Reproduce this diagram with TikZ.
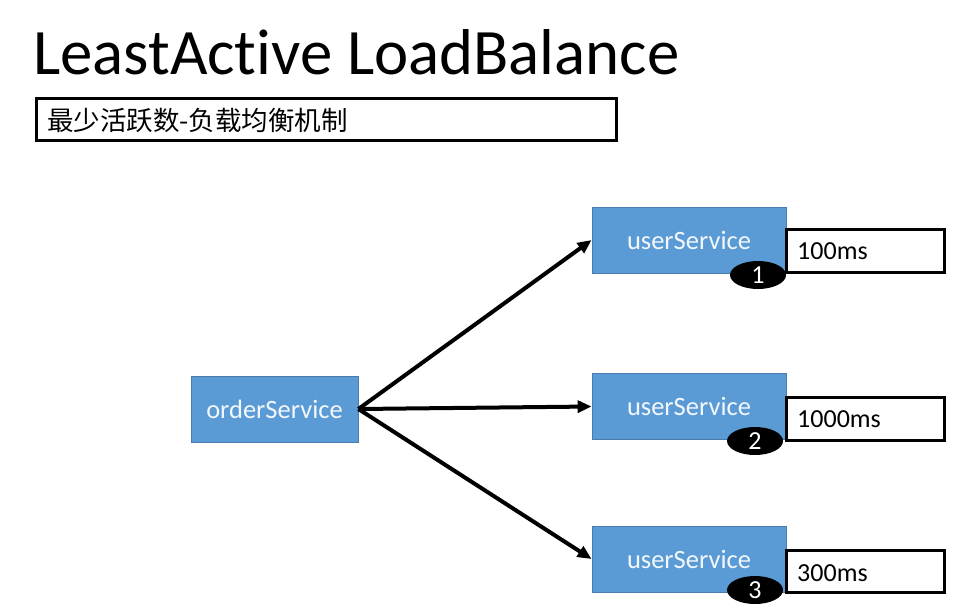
\documentclass[tikz,border=0pt]{standalone}
\usepackage{fontspec}
\setmainfont[Ligatures=NoCommon]{Carlito}
\newfontfamily\cjk{Noto Sans CJK SC}
\usetikzlibrary{arrows.meta,shapes.geometric}
\definecolor{boxblue}{HTML}{5B9BD5}
\definecolor{boxtext}{HTML}{F2F7FC}
\tikzset{
  svc/.style={draw=boxblue!80!black, line width=0.8pt, fill=boxblue, text=boxtext, font=\fontsize{26.5}{30}\selectfont, inner sep=0pt},
  timebox/.style={draw=black, line width=3pt, fill=white, inner sep=0pt},
  timelabel/.style={anchor=west, inner sep=0pt, font=\fontsize{26}{30}\selectfont},
  badge/.style={ellipse, fill=black, text=white, minimum width=56pt, minimum height=28pt, inner sep=0pt, font=\fontsize{26}{30}\selectfont},
  conn/.style={line width=4pt, -{Triangle[length=14pt,width=12pt]}}
}
\begin{document}
\begin{tikzpicture}[x=1pt,y=-1pt]
\useasboundingbox (0,0) rectangle (965,614);
\node[anchor=base west, inner sep=0pt, font=\fontsize{64.8}{72}\selectfont] (title) at (33,74) {LeastActive LoadBalance};
\node[draw=black, line width=2.5pt, minimum width=580pt, minimum height=42pt, inner sep=0pt] (sub) at (326.5,119.5) {};
\node[anchor=west, inner sep=0pt, font=\cjk\fontsize{26.5}{30}\selectfont] (subt) at (47,120) {最少活跃数-负载均衡机制};

\node[svc, minimum width=167pt, minimum height=66pt] (order) at (274.5,409) {orderService};
\node[svc, minimum width=194pt, minimum height=66pt] (u1) at (689,240) {userService};
\node[svc, minimum width=194pt, minimum height=66pt] (u2) at (689,406.5) {userService};
\node[svc, minimum width=194pt, minimum height=66pt] (u3) at (689,559) {userService};

\node[timebox, minimum width=158pt, minimum height=43pt] (t1) at (865,250.5) {};
\node[timelabel] (l1) at (797,251) {100ms};
\node[timebox, minimum width=158pt, minimum height=43pt] (t2) at (865,418.5) {};
\node[timelabel] (l2) at (797,419) {1000ms};
\node[timebox, minimum width=158pt, minimum height=42pt] (t3) at (865,571) {};
\node[timelabel] (l3) at (797,573) {300ms};

\node[badge] (b1) at (758,275) {1};
\node[badge] (b2) at (755,441) {2};
\node[badge] (b3) at (755,590) {3};

\coordinate (src) at (order.east);
\draw[conn] (src) -- (u1.west);
\draw[conn] (src) -- (u2.west);
\draw[conn] (src) -- (u3.west);
\end{tikzpicture}
\end{document}
